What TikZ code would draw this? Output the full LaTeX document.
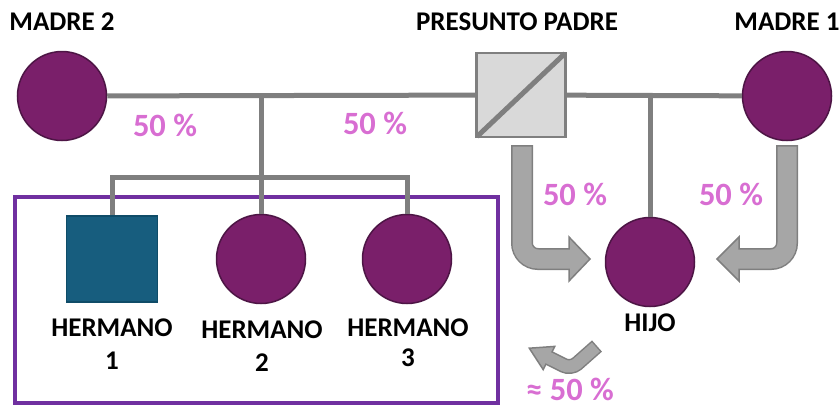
\documentclass[tikz,border=0pt]{standalone}
\usepackage{fontspec}
\setmainfont{Carlito}
\usepackage{xcolor}
\definecolor{femaleFill}{HTML}{7A1F6A}
\definecolor{femaleBorder}{HTML}{4D1545}
\definecolor{maleFill}{HTML}{175D7E}
\definecolor{maleBorder}{HTML}{0F4C68}
\definecolor{unkFill}{HTML}{D9D9D9}
\definecolor{kinGray}{HTML}{7F7F7F}
\definecolor{flowFill}{HTML}{A6A6A6}
\definecolor{flowBorder}{HTML}{7F7F7F}
\definecolor{sharePink}{HTML}{D86ED2}
\definecolor{boxPurple}{HTML}{7030A0}
\usetikzlibrary{positioning,calc}
\tikzset{
    female/.style={
        circle,
        draw=femaleBorder,
        fill=femaleFill,
        line width=1.5pt,
        minimum size=89pt,
        inner sep=0pt
    },
    male/.style={
        rectangle,
        draw=maleBorder,
        fill=maleFill,
        line width=1.5pt,
        minimum width=91pt,
        minimum height=86pt,
        inner sep=0pt
    },
    unknown/.style={
        rectangle,
        draw=kinGray,
        fill=unkFill,
        line width=2.5pt,
        minimum width=89pt,
        minimum height=84pt,
        inner sep=0pt
    },
    sibbox/.style={
        rectangle,
        draw=boxPurple,
        line width=4.5pt,
        inner sep=0pt
    },
    kin/.style={
        draw=kinGray,
        line width=5pt
    },
    personlbl/.style={
        font=\fontsize{27}{33}\selectfont\bfseries,
        anchor=base,
        align=center,
        inner sep=0pt
    },
    sharelbl/.style={
        font=\fontsize{32.5}{34}\selectfont\bfseries,
        text=sharePink,
        anchor=base,
        inner sep=0pt
    },
    flowOuter/.style={draw=flowBorder, line width=22pt, rounded corners=16pt},
    flowInner/.style={draw=flowFill, line width=19pt, rounded corners=16pt, shorten <=1.5pt},
    flowHead/.style={fill=flowFill, draw=flowBorder, line width=1.5pt},
    smallOuter/.style={draw=flowBorder, line width=15pt, rounded corners=8pt},
    smallInner/.style={draw=flowFill, line width=12pt, rounded corners=8pt, shorten <=1.5pt}
}

\begin{document}
\begin{tikzpicture}[x=1pt, y=-1pt]
    \useasboundingbox (0,0) rectangle (840,408);

    % Parents
    \node[female] (madre2) at (62,96) {};
    \node[unknown] (padre) at (521,95) {};
    \node[female] (madre1) at (787,96) {};
    \draw[kin, shorten <=2.5pt, shorten >=2.5pt] (padre.south west) -- (padre.north east);

    \node[personlbl] (madre2lbl) at (62,30) {MADRE 2};
    \node[personlbl] (padrelbl) at (517,30) {PRESUNTO PADRE};
    \node[personlbl] (madre1lbl) at (787,30) {MADRE 1};

    % Siblings
    \node[sibbox, minimum width=483pt, minimum height=206pt] (sibs) at (256.5,300) {};
    \node[male] (h1) at (112,259) {};
    \node[female] (h2) at (261,259) {};
    \node[female] (h3) at (407,259) {};

    \node[personlbl] (h1lbl) at (112,369) {HERMANO\\1};
    \node[personlbl] (h2lbl) at (262,371) {HERMANO\\2};
    \node[personlbl, font=\fontsize{27}{30}\selectfont\bfseries] (h3lbl) at (408,366) {HERMANO\\3};

    % Child
    \node[female] (hijo) at (650,262) {};
    \node[personlbl] (hijolbl) at (650,331) {HIJO};

    % Kinship lines
    \coordinate (fork) at (h2 |- madre2.east);
    \coordinate (bar) at (262,177);
    \coordinate (fork2) at (hijo |- padre.east);
    \draw[kin] (madre2) -- (padre);
    \draw[kin] (padre) -- (madre1);
    \draw[kin] (fork) -- (h2);
    \draw[kin] (h1.north) |- (bar) -| (h3.north);
    \draw[kin] (fork2) -- (hijo);

    % Inheritance arrows
    \draw[flowOuter] (522,145) |- (570,259);
    \draw[flowHead] (569,237) -- (590,259) -- (569,281) -- cycle;
    \draw[flowInner] (522,145) |- (572,259);

    \draw[flowOuter] (787,145) |- (738,259);
    \draw[flowHead] (739,237) -- (717,259) -- (739,281) -- cycle;
    \draw[flowInner] (787,145) |- (736,259);

    \draw[smallOuter] (597,346) -- (571,369) -- (549,358);
    \draw[flowHead] (554.8,346.4) -- (529.3,348.2) -- (543.2,369.6) -- cycle;
    \draw[smallInner] (597,346) -- (571,369) -- (546.3,356.7);

    % Shares
    \node[sharelbl] (s1) at (165,136) {50 \%};
    \node[sharelbl] (s2) at (375,134) {50 \%};
    \node[sharelbl] (s3) at (575,205) {50 \%};
    \node[sharelbl] (s4) at (731,205) {50 \%};
    \node[sharelbl] (s5) at (570,400) {≈ 50 \%};
\end{tikzpicture}
\end{document}
